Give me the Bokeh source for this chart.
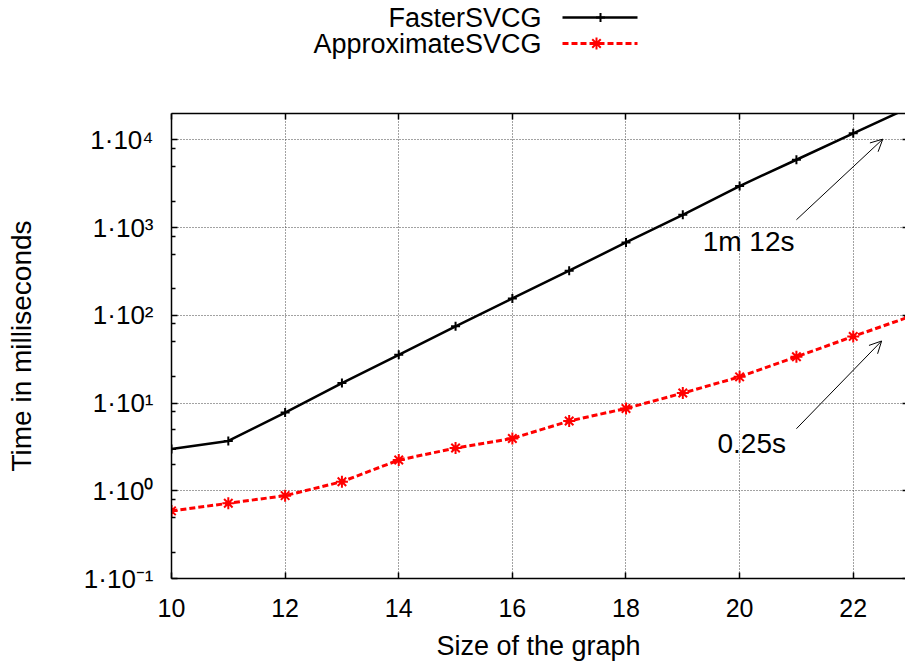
from bokeh.plotting import figure
from bokeh.models import (Range1d, FixedTicker, LinearAxis, LogAxis, Arrow,
                          OpenHead, ColumnDataSource)
from bokeh.layouts import column
from bokeh.embed import file_html
from bokeh.resources import INLINE
from bokeh.core.properties import value

# ---------------- data ----------------
sizes = [10, 11, 12, 13, 14, 15, 16, 17, 18, 19, 20, 21, 22, 23]
faster_ms = [3.0, 3.7, 7.8, 16.9, 35.5, 75, 156, 323, 678, 1400, 2980, 5940, 11900, 23600]
approx_ms = [0.59, 0.72, 0.88, 1.27, 2.24, 3.07, 3.95, 6.24, 8.68, 13.0, 19.9, 33.7, 57.5, 97]
series_names = ["FasterSVCG", "ApproximateSVCG"]

x_ticks = [10, 12, 14, 16, 18, 20, 22]
y_ticks = [0.1, 1, 10, 100, 1000, 10000]
y_tick_labels = ["1·10⁻¹", "1·10⁰", "1·10¹", "1·10²", "1·10³", "1·10⁴"]
y_minor_mult = [2, 5, 8]

note_text = ["1m 12s", "0.25s"]
note_x = [19.35, 19.61]
note_y = [690, 3.48]
arrow_x0 = [21.0, 21.0]
arrow_y0 = [1230, 5.1]
arrow_x1 = [22.52, 22.5]
arrow_y1 = [10200, 51]

FONT = "Liberation Sans"
y_minor = [m * t for t in y_ticks[:-1] for m in y_minor_mult]

FRAME_LEFT = 171
W = 905

# ---------------- legend strip (top) ----------------
leg = figure(width=W, height=70, x_range=Range1d(FRAME_LEFT, W), y_range=Range1d(70, 0),
             output_backend="svg", toolbar_location=None,
             min_border_left=FRAME_LEFT, min_border_right=0, min_border_top=0, min_border_bottom=0,
             x_axis_location=None, y_axis_location=None, outline_line_color=None)
leg.grid.visible = False
leg_text_x = 541
leg_row_y = [17, 43]
leg.text(x=[leg_text_x] * 2, y=leg_row_y, text=series_names, text_align="right",
         text_baseline="middle", text_font=value(FONT), text_font_size="27px",
         text_color="black")
leg.line([562, 637], [leg_row_y[0]] * 2, line_color="black", line_width=2.5)
leg.scatter([600], [leg_row_y[0]], marker="cross", size=9, line_color="black", line_width=2)
leg.line([562, 637], [leg_row_y[1]] * 2, line_color="red", line_width=3, line_dash="6 3")
leg.scatter([596], [leg_row_y[1]], marker="asterisk", size=12, line_color="red", line_width=2)

# ---------------- main plot ----------------
p = figure(width=W, height=596, x_range=Range1d(10, 22.92), y_range=Range1d(0.1, 2e4),
           y_axis_type="log", output_backend="svg", toolbar_location=None,
           min_border_left=FRAME_LEFT, min_border_right=0, min_border_top=43, min_border_bottom=88,
           outline_line_color=None, background_fill_color="white", border_fill_color="white")

# grid
p.xgrid.ticker = FixedTicker(ticks=x_ticks)
p.ygrid.ticker = FixedTicker(ticks=y_ticks)
for g in (p.xgrid, p.ygrid):
    g.grid_line_color = "#444444"
    g.grid_line_dash = "1 2"
    g.grid_line_width = 1

def style_axis(ax):
    ax.axis_line_color = "black"
    ax.axis_line_width = 1.5
    ax.major_tick_line_color = "black"
    ax.major_tick_line_width = 1.5
    ax.minor_tick_line_color = "black"
    ax.minor_tick_line_width = 1.5
    ax.major_tick_in = 6
    ax.major_tick_out = 0
    ax.minor_tick_in = 4
    ax.minor_tick_out = 0
    ax.major_label_text_font = FONT
    ax.major_label_text_font_size = "25px"
    ax.major_label_text_color = "black"
    ax.axis_label_text_font = FONT
    ax.axis_label_text_font_size = "27px"
    ax.axis_label_text_font_style = "normal"
    ax.axis_label_text_color = "black"

xa = p.xaxis[0]
style_axis(xa)
xa.ticker = FixedTicker(ticks=x_ticks)
xa.axis_label = "Size of the graph"
xa.major_label_standoff = 20
xa.axis_label_standoff = 11

ya = p.yaxis[0]
style_axis(ya)
ya.ticker = FixedTicker(ticks=y_ticks, minor_ticks=y_minor)
ya.major_label_overrides = dict(zip(y_ticks, y_tick_labels))
ya.major_label_text_font_size = "26px"
ya.axis_label = "Time in milliseconds"
ya.axis_label_text_font_size = "28px"
ya.major_label_standoff = 18
ya.axis_label_standoff = 44

top = LinearAxis(ticker=FixedTicker(ticks=x_ticks))
style_axis(top)
top.major_label_overrides = {t: "" for t in x_ticks}
top.major_label_text_color = None
top.major_label_standoff = 0
p.add_layout(top, "above")

right = LogAxis(ticker=FixedTicker(ticks=y_ticks, minor_ticks=y_minor))
style_axis(right)
right.axis_line_color = None
right.major_tick_in = 3
right.minor_tick_in = 0
right.major_label_overrides = {t: "" for t in y_ticks}
right.major_label_text_color = None
right.major_label_standoff = 0
p.add_layout(right, "right")

# series
src = ColumnDataSource(dict(x=sizes, fast=faster_ms, approx=approx_ms))
p.line("x", "fast", source=src, line_color="black", line_width=2.5)
p.scatter("x", "fast", source=src, marker="cross", size=9, line_color="black", line_width=2)
p.line("x", "approx", source=src, line_color="red", line_width=3, line_dash="6 3")
p.scatter("x", "approx", source=src, marker="asterisk", size=12, line_color="red", line_width=2)

# annotations
p.text(x=note_x, y=note_y, text=note_text, text_align="left", text_baseline="middle",
       text_font=value(FONT), text_font_size="28px", text_color="black")
arr_src = ColumnDataSource(dict(x0=arrow_x0, y0=arrow_y0, x1=arrow_x1, y1=arrow_y1))
p.add_layout(Arrow(source=arr_src, x_start="x0", y_start="y0", x_end="x1", y_end="y1",
                   line_color="black", line_width=1,
                   end=OpenHead(size=12, line_width=1, line_color="black")))

layout = column(leg, p, spacing=0)
open("out.html", "w").write(file_html(layout, INLINE))
